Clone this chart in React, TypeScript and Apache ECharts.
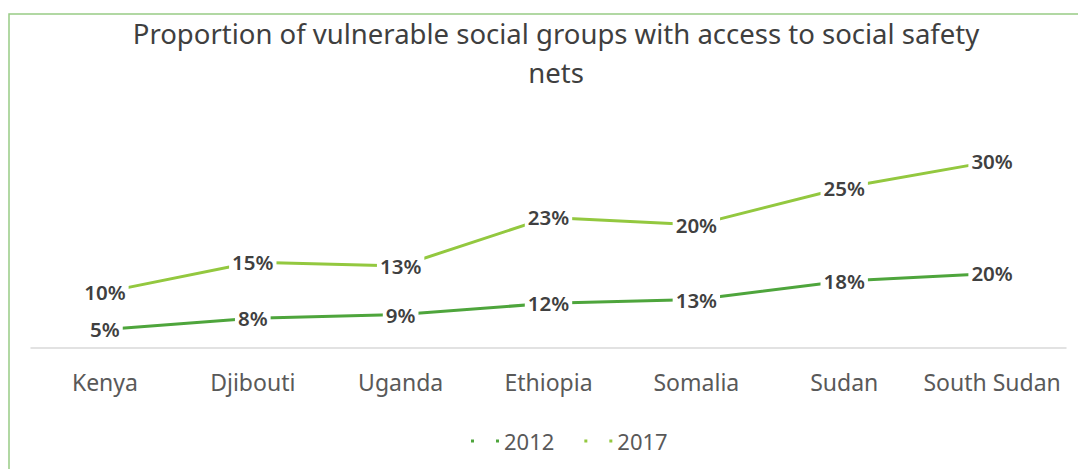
import React, { useEffect, useRef } from "react";
import * as echarts from "echarts";

const categories = ["Kenya", "Djibouti", "Uganda", "Ethiopia", "Somalia", "Sudan", "South Sudan"];
const values2012 = [5, 8, 9, 12, 13, 18, 20];
const values2017 = [10, 15, 13, 23, 20, 25, 30];
const seriesNames = ["2012", "2017"];
const titleText = "Proportion of vulnerable social groups with access to social safety\nnets";

const FONT = "'Noto Sans', sans-serif";
const C2012 = "#4ea53c";
const C2017 = "#93c83f";

export default function App() {
  const ref = useRef<HTMLDivElement>(null);
  useEffect(() => {
    if (!ref.current) return;
    const chart = echarts.init(ref.current, null, { renderer: "svg" });
    const label = {
      show: true,
      position: "inside",
      formatter: (p: any) => `${p.value}%`,
      fontFamily: FONT,
      fontSize: 20.5,
      fontWeight: 600,
      color: "#404040",
      backgroundColor: "#ffffff",
      padding: [0, 3],
    };
    chart.setOption({
      animation: false,
      backgroundColor: "#ffffff",
      graphic: [
        {
          type: "rect",
          shape: { x: 9, y: 14, width: 1200, height: 600 },
          style: { fill: "none", stroke: "#98cc85", lineWidth: 1.5 },
          silent: true,
        },
      ],
      title: {
        text: titleText,
        left: 551,
        top: 9,
        textAlign: "center",
        textStyle: {
          fontFamily: FONT,
          fontSize: 27.5,
          fontWeight: "normal",
          color: "#3f3f3f",
          lineHeight: 39,
        },
      },
      legend: {
        left: 466,
        top: 425,
        itemGap: 30,
        itemWidth: 28,
        itemHeight: 3,
        icon: "path://M0,0h3v3h-3zM25,0h3v3h-3z",
        textStyle: { fontFamily: FONT, fontSize: 22, color: "#595959" },
        data: seriesNames,
      },
      grid: { left: 31, right: 12, top: 124, bottom: 119, containLabel: false },
      xAxis: {
        type: "category",
        data: categories,
        boundaryGap: true,
        axisLine: { show: true, lineStyle: { color: "#d9d9d9", width: 1.5 } },
        axisTick: { show: false },
        axisLabel: { fontFamily: FONT, fontSize: 23, color: "#595959", margin: 20, interval: 0 },
      },
      yAxis: {
        type: "value",
        min: -0.5,
        max: 60,
        show: false,
        splitLine: { show: false },
      },
      series: [
        {
          name: seriesNames[0],
          type: "line",
          stack: "total",
          data: values2012,
          symbol: "circle",
          symbolSize: 2,
          showSymbol: true,
          lineStyle: { color: C2012, width: 3 },
          itemStyle: { color: C2012 },
          label,
        },
        {
          name: seriesNames[1],
          type: "line",
          stack: "total",
          data: values2017,
          symbol: "circle",
          symbolSize: 2,
          showSymbol: true,
          lineStyle: { color: C2017, width: 3 },
          itemStyle: { color: C2017 },
          label,
        },
      ],
    });
    return () => chart.dispose();
  }, []);
  return (
    <div
      ref={ref}
      style={{ position: "fixed", left: 0, top: 0, width: 1078, height: 469 }}
    />
  );
}
